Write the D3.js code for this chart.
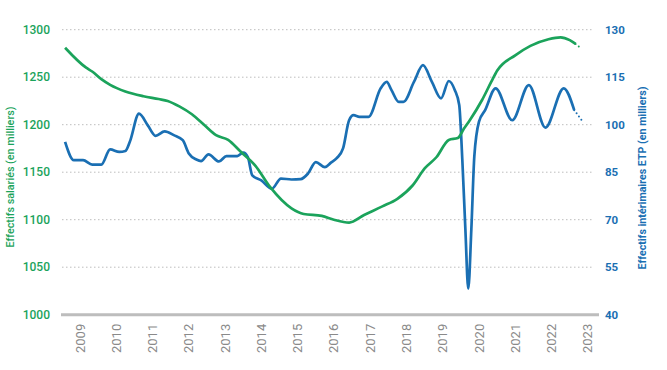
<!DOCTYPE html>
<html>
<head>
<meta charset="utf-8">
<script src="https://cdn.jsdelivr.net/npm/d3@7"></script>
<style>
  body { margin: 0; background: #fff; }
  svg { display: block; font-family: Roboto, "Liberation Sans", sans-serif; }
</style>
</head>
<body>
<svg width="667" height="370"></svg>
<script>
// salariés (milliers), left axis
const salDates = ["2009-02-01","2009-09-01","2009-11-01","2010-02-01","2010-05-01","2010-10-01",
  "2011-04-01","2011-09-01","2011-12-01","2012-04-01","2012-08-01","2012-12-01","2013-04-01",
  "2013-08-01","2013-12-01","2014-05-01","2014-10-01","2015-05-01","2015-09-01","2016-03-01",
  "2016-07-01","2016-12-01","2017-05-01","2017-11-01","2018-04-01","2018-09-01","2019-01-01",
  "2019-05-01","2019-09-01","2019-12-01","2020-02-01","2020-04-01","2020-08-01","2020-11-01",
  "2021-01-01","2021-07-01","2021-12-01","2022-06-01","2022-10-01","2023-01-01","2023-03-01"];
const salValues = [1281,1260,1256,1248,1242,1235,1230,1227,1225,1219,1211,1200,1189,1184,1172,
  1157,1134,1112,1106,1104,1100,1097,1105,1114,1122,1136,1154,1166,1184,1186,1196,1205,1226,
  1245,1257,1273,1283,1290,1292,1289,1285];
const salForecastDates = ["2023-03-01","2023-05-01"];
const salForecastValues = [1285,1280];

// intérimaires ETP (milliers), right axis
const intDates = ["2009-02-01","2009-05-01","2009-08-01","2009-11-01","2010-02-01","2010-05-01",
  "2010-08-01","2010-10-01","2010-11-15","2011-02-15","2011-05-15","2011-08-01","2011-11-01",
  "2012-02-01","2012-05-01","2012-07-01","2012-09-15","2012-11-01","2013-01-15","2013-05-01",
  "2013-07-15","2013-11-01","2014-01-01","2014-02-15","2014-04-01","2014-07-01","2014-10-15",
  "2015-01-15","2015-05-01","2015-08-01","2015-10-15","2016-01-01","2016-04-01","2016-06-01",
  "2016-08-01","2016-10-01","2016-12-01","2017-01-15","2017-03-15","2017-06-15","2017-10-15",
  "2017-12-15","2018-02-01","2018-04-15","2018-06-01","2018-09-15","2018-12-15","2019-03-15",
  "2019-06-15","2019-09-01","2019-11-01","2019-12-15","2020-01-15","2020-02-15","2020-03-15",
  "2020-04-15","2020-05-15","2020-07-01","2020-09-01","2020-12-15","2021-06-01","2021-11-15",
  "2022-05-01","2022-11-01","2023-02-15"];
const intValues = [94.6,88.8,88.8,87.4,87.4,92.2,91.4,91.7,94.6,103.5,99.8,96.5,97.9,96.7,95.1,
  90.9,89.0,88.5,90.6,88.4,90.1,90.1,91.2,89.8,84,82.4,79.8,83,82.7,82.8,84.6,88.2,86.6,88,
  89.5,92.5,101.4,103,102.5,102.5,111.5,113.5,110.9,107.2,107.2,113.5,118.8,113.5,108.3,113.8,
  110.9,106.2,89,67,48.2,67,90,101,104.6,111.5,101.4,112.5,99.1,111.5,104.6];
const intForecastDates = ["2023-02-15","2023-05-01"];
const intForecastValues = [104.6,101.4];

const years = d3.range(2009, 2024);
const leftTicks = [1000,1050,1100,1150,1200,1250,1300];
const rightTicks = [40,55,70,85,100,115,130];

const green = "#1ba35b", blue = "#1a6fb3";
const svg = d3.select("svg");
const parse = d3.timeParse("%Y-%m-%d");

const x = d3.scaleTime()
  .domain([new Date(2009, 0, 1), new Date(2024, 0, 1)])
  .range([62, 606]);
const yL = d3.scaleLinear().domain([1000, 1300]).range([314.7, 29.7]);
const yR = d3.scaleLinear().domain([40, 130]).range([314.7, 29.7]);

// dotted grid
svg.append("g")
  .selectAll("line")
  .data(leftTicks.slice(1))
  .enter().append("line")
    .attr("x1", 62).attr("x2", 592)
    .attr("y1", d => yL(d)).attr("y2", d => yL(d))
    .attr("stroke", "#bdbdbd")
    .attr("stroke-width", 1)
    .attr("stroke-dasharray", "1.5,2.5");

// baseline
svg.append("line")
  .attr("x1", 61).attr("x2", 599)
  .attr("y1", yL(1000)).attr("y2", yL(1000))
  .attr("stroke", "#bdbdbd")
  .attr("stroke-width", 3);

// left ticks
svg.append("g")
  .selectAll("text")
  .data(leftTicks)
  .enter().append("text")
    .attr("x", 50)
    .attr("y", d => yL(d))
    .attr("dy", "0.35em")
    .attr("text-anchor", "end")
    .attr("fill", green)
    .attr("font-size", 12)
    .attr("font-weight", 500)
    .text(d => d);

// right ticks
svg.append("g")
  .selectAll("text")
  .data(rightTicks)
  .enter().append("text")
    .attr("x", 605)
    .attr("y", d => yR(d))
    .attr("dy", "0.35em")
    .attr("text-anchor", "start")
    .attr("fill", blue)
    .attr("font-size", 11.5)
    .attr("font-weight", 700)
    .text(d => d);

// year labels, rotated, centred in each year
svg.append("g")
  .selectAll("text")
  .data(years)
  .enter().append("text")
    .attr("transform", d => `translate(${x(new Date(d, 6, 1))},353) rotate(-90)`)
    .attr("dy", "0.35em")
    .attr("text-anchor", "start")
    .attr("fill", "#8a8a8a")
    .attr("font-size", 13)
    .text(d => d);

// axis titles
svg.append("text")
  .attr("transform", "translate(10,177) rotate(-90)")
  .attr("dy", "0.35em")
  .attr("text-anchor", "middle")
  .attr("fill", green)
  .attr("font-size", 10.5)
  .attr("font-weight", 500)
  .attr("textLength", 141)
  .attr("lengthAdjust", "spacingAndGlyphs")
  .text("Effectifs salariés (en milliers)");

svg.append("text")
  .attr("transform", "translate(642,178) rotate(-90)")
  .attr("dy", "0.35em")
  .attr("text-anchor", "middle")
  .attr("fill", blue)
  .attr("font-size", 10.5)
  .attr("font-weight", 700)
  .attr("textLength", 183)
  .attr("lengthAdjust", "spacingAndGlyphs")
  .text("Effectifs intérimaires ETP (en milliers)");

// lines
const lineL = d3.line().x(d => x(d.date)).y(d => yL(d.value)).curve(d3.curveMonotoneX);
const lineR = d3.line().x(d => x(d.date)).y(d => yR(d.value)).curve(d3.curveMonotoneX);
const zip = (dates, values) => dates.map((d, i) => ({date: parse(d), value: values[i]}));

svg.append("path")
  .datum(zip(intDates, intValues))
  .attr("fill", "none")
  .attr("stroke", blue)
  .attr("stroke-width", 2.7)
  .attr("stroke-linejoin", "round")
  .attr("d", lineR);

svg.append("path")
  .datum(zip(intForecastDates, intForecastValues))
  .attr("fill", "none")
  .attr("stroke", blue)
  .attr("stroke-width", 2)
  .attr("stroke-linecap", "round")
  .attr("stroke-dasharray", "0,4")
  .attr("d", lineR);

svg.append("path")
  .datum(zip(salDates, salValues))
  .attr("fill", "none")
  .attr("stroke", green)
  .attr("stroke-width", 2.7)
  .attr("stroke-linejoin", "round")
  .attr("d", lineL);

svg.append("path")
  .datum(zip(salForecastDates, salForecastValues))
  .attr("fill", "none")
  .attr("stroke", green)
  .attr("stroke-width", 2)
  .attr("stroke-linecap", "round")
  .attr("stroke-dasharray", "0,4")
  .attr("d", lineL);
</script>
</body>
</html>
